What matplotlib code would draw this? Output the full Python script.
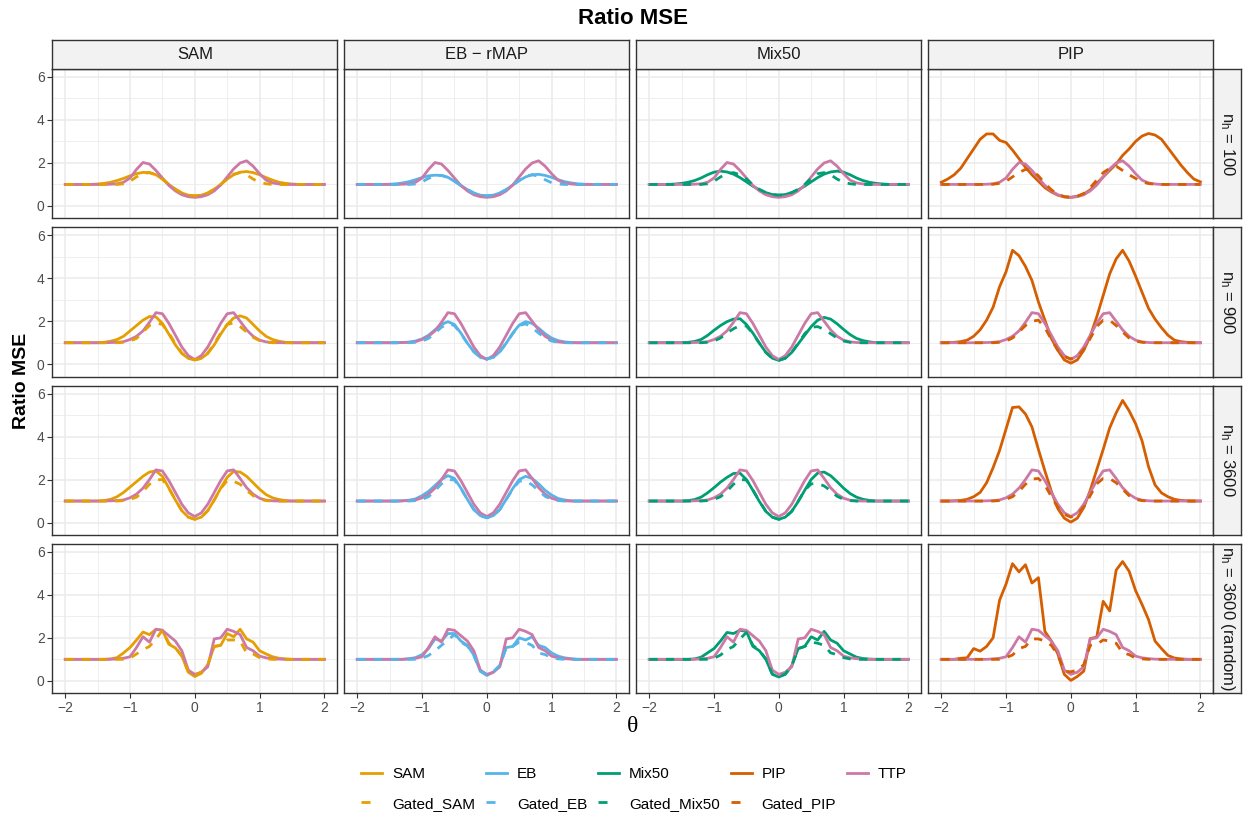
import matplotlib
matplotlib.use("Agg")
import matplotlib.pyplot as plt
from matplotlib.lines import Line2D
from matplotlib.ticker import FixedLocator

plt.rcParams["font.family"] = ["Liberation Sans", "DejaVu Sans"]
plt.rcParams["mathtext.fontset"] = "custom"
plt.rcParams["mathtext.rm"] = "Liberation Sans"
plt.rcParams["mathtext.it"] = "Liberation Sans:italic"
plt.rcParams["lines.scale_dashes"] = False

# ---------------- data ----------------
theta = [-2.0, -1.9, -1.8, -1.7, -1.6, -1.5, -1.4, -1.3, -1.2, -1.1, -1.0,
         -0.9, -0.8, -0.7, -0.6, -0.5, -0.4, -0.3, -0.2, -0.1, 0.0,
         0.1, 0.2, 0.3, 0.4, 0.5, 0.6, 0.7, 0.8, 0.9, 1.0,
         1.1, 1.2, 1.3, 1.4, 1.5, 1.6, 1.7, 1.8, 1.9, 2.0]

col_titles = ["SAM", "EB \u2212 rMAP", "Mix50", "PIP"]
methods = ["SAM", "EB", "Mix50", "PIP"]
row_labels = [r"$\mathrm{n_h}$ = 100", r"$\mathrm{n_h}$ = 900",
              r"$\mathrm{n_h}$ = 3600", r"$\mathrm{n_h}$ = 3600 (random)"]

# ---- n_h = 100 ----
TTP_100 = [1.00, 1.00, 1.00, 1.00, 1.00, 1.00, 1.00, 1.01, 1.03, 1.10, 1.30, 1.70, 2.02, 1.95, 1.65, 1.30, 0.95, 0.70, 0.52, 0.43,
           0.40,
           0.43, 0.52, 0.70, 0.97, 1.35, 1.72, 2.00, 2.10, 1.85, 1.50, 1.20, 1.07, 1.02, 1.00, 1.00, 1.00, 1.00, 1.00, 1.00, 1.00]
SAM_100 = [1.00, 1.00, 1.00, 1.00, 1.00, 1.02, 1.05, 1.10, 1.18, 1.28, 1.40, 1.50, 1.56, 1.55, 1.45, 1.25, 1.00, 0.78, 0.60, 0.50,
           0.47,
           0.50, 0.60, 0.78, 1.00, 1.25, 1.45, 1.57, 1.60, 1.55, 1.45, 1.32, 1.20, 1.10, 1.05, 1.02, 1.00, 1.00, 1.00, 1.00, 1.00]
GSAM_100 = [1.00, 1.00, 1.00, 1.00, 1.00, 1.00, 1.00, 1.00, 1.00, 1.03, 1.15, 1.35, 1.50, 1.55, 1.45, 1.25, 1.00, 0.78, 0.60, 0.50,
            0.47,
            0.50, 0.60, 0.78, 1.00, 1.25, 1.48, 1.55, 1.45, 1.25, 1.10, 1.03, 1.00, 1.00, 1.00, 1.00, 1.00, 1.00, 1.00, 1.00, 1.00]
EB_100 = [1.00, 1.00, 1.00, 1.00, 1.00, 1.01, 1.03, 1.07, 1.13, 1.22, 1.32, 1.40, 1.43, 1.42, 1.33, 1.15, 0.95, 0.76, 0.60, 0.50,
          0.47,
          0.50, 0.60, 0.76, 0.97, 1.18, 1.35, 1.45, 1.47, 1.42, 1.33, 1.22, 1.13, 1.07, 1.03, 1.01, 1.00, 1.00, 1.00, 1.00, 1.00]
GEB_100 = [1.00, 1.00, 1.00, 1.00, 1.00, 1.00, 1.00, 1.00, 1.00, 1.02, 1.12, 1.28, 1.40, 1.42, 1.33, 1.15, 0.95, 0.76, 0.60, 0.50,
           0.47,
           0.50, 0.60, 0.76, 0.97, 1.18, 1.38, 1.45, 1.38, 1.22, 1.08, 1.02, 1.00, 1.00, 1.00, 1.00, 1.00, 1.00, 1.00, 1.00, 1.00]
MIX_100 = [1.00, 1.00, 1.00, 1.00, 1.02, 1.05, 1.10, 1.18, 1.30, 1.45, 1.57, 1.62, 1.58, 1.48, 1.32, 1.12, 0.92, 0.75, 0.62, 0.53,
           0.50,
           0.53, 0.62, 0.75, 0.92, 1.12, 1.32, 1.48, 1.58, 1.62, 1.57, 1.45, 1.30, 1.18, 1.10, 1.05, 1.02, 1.00, 1.00, 1.00, 1.00]
GMIX_100 = [1.00, 1.00, 1.00, 1.00, 1.00, 1.00, 1.00, 1.00, 1.00, 1.03, 1.15, 1.35, 1.50, 1.55, 1.45, 1.25, 0.98, 0.77, 0.62, 0.53,
            0.50,
            0.53, 0.62, 0.77, 1.00, 1.28, 1.50, 1.55, 1.45, 1.25, 1.10, 1.03, 1.00, 1.00, 1.00, 1.00, 1.00, 1.00, 1.00, 1.00, 1.00]
PIP_100 = [1.10, 1.25, 1.45, 1.75, 2.20, 2.65, 3.10, 3.35, 3.35, 3.05, 2.95, 2.60, 2.20, 1.80, 1.45, 1.15, 0.85, 0.65, 0.50, 0.42,
           0.40,
           0.45, 0.55, 0.75, 1.05, 1.35, 1.65, 1.95, 2.35, 2.65, 3.00, 3.25, 3.37, 3.30, 3.10, 2.70, 2.30, 1.90, 1.55, 1.25, 1.12]
GPIP_100 = [1.00, 1.00, 1.00, 1.00, 1.00, 1.00, 1.00, 1.00, 1.01, 1.05, 1.15, 1.35, 1.55, 1.70, 1.65, 1.40, 1.05, 0.75, 0.55, 0.43,
            0.40,
            0.45, 0.58, 0.85, 1.20, 1.55, 1.75, 1.85, 1.65, 1.45, 1.28, 1.12, 1.04, 1.01, 1.00, 1.00, 1.00, 1.00, 1.00, 1.00, 1.00]

# ---- n_h = 900 ----
TTP_900 = [1.00, 1.00, 1.00, 1.00, 1.00, 1.00, 1.00, 1.01, 1.02, 1.05, 1.15, 1.30, 1.55, 1.95, 2.40, 2.35, 1.90, 1.35, 0.80, 0.40,
           0.22,
           0.40, 0.80, 1.35, 1.90, 2.35, 2.40, 2.00, 1.60, 1.30, 1.12, 1.04, 1.01, 1.00, 1.00, 1.00, 1.00, 1.00, 1.00, 1.00, 1.00]
SAM_900 = [1.00, 1.00, 1.00, 1.00, 1.00, 1.00, 1.02, 1.07, 1.15, 1.30, 1.55, 1.80, 2.05, 2.22, 2.20, 1.90, 1.40, 0.90, 0.50, 0.27,
           0.20,
           0.27, 0.50, 0.90, 1.40, 1.85, 2.15, 2.25, 2.15, 1.85, 1.55, 1.30, 1.15, 1.07, 1.02, 1.00, 1.00, 1.00, 1.00, 1.00, 1.00]
GSAM_900 = [1.00, 1.00, 1.00, 1.00, 1.00, 1.00, 1.00, 1.00, 1.00, 1.02, 1.08, 1.20, 1.50, 1.80, 1.92, 1.85, 1.45, 0.95, 0.52, 0.28,
            0.20,
            0.28, 0.52, 0.95, 1.45, 1.85, 1.92, 1.75, 1.50, 1.25, 1.10, 1.02, 1.00, 1.00, 1.00, 1.00, 1.00, 1.00, 1.00, 1.00, 1.00]
EB_900 = [1.00, 1.00, 1.00, 1.00, 1.00, 1.00, 1.00, 1.01, 1.03, 1.08, 1.18, 1.35, 1.60, 1.85, 1.98, 1.85, 1.45, 0.98, 0.58, 0.32,
          0.25,
          0.32, 0.58, 0.98, 1.45, 1.82, 1.98, 1.90, 1.68, 1.42, 1.22, 1.10, 1.04, 1.01, 1.00, 1.00, 1.00, 1.00, 1.00, 1.00, 1.00]
GEB_900 = [1.00, 1.00, 1.00, 1.00, 1.00, 1.00, 1.00, 1.00, 1.00, 1.02, 1.08, 1.20, 1.45, 1.72, 1.88, 1.80, 1.42, 0.98, 0.58, 0.32,
           0.25,
           0.32, 0.58, 0.98, 1.42, 1.80, 1.88, 1.70, 1.45, 1.22, 1.08, 1.02, 1.00, 1.00, 1.00, 1.00, 1.00, 1.00, 1.00, 1.00, 1.00]
MIX_900 = [1.00, 1.00, 1.00, 1.00, 1.00, 1.00, 1.02, 1.06, 1.15, 1.34, 1.58, 1.80, 1.98, 2.10, 2.12, 1.85, 1.45, 0.98, 0.55, 0.28,
           0.18,
           0.28, 0.55, 0.95, 1.35, 1.75, 2.05, 2.18, 2.10, 1.88, 1.62, 1.38, 1.20, 1.10, 1.04, 1.00, 1.00, 1.00, 1.00, 1.00, 1.00]
GMIX_900 = [1.00, 1.00, 1.00, 1.00, 1.00, 1.00, 1.00, 1.00, 1.00, 1.02, 1.08, 1.22, 1.45, 1.65, 1.80, 1.78, 1.42, 0.98, 0.55, 0.28,
            0.18,
            0.28, 0.55, 0.98, 1.42, 1.72, 1.75, 1.62, 1.42, 1.22, 1.08, 1.02, 1.00, 1.00, 1.00, 1.00, 1.00, 1.00, 1.00, 1.00, 1.00]
PIP_900 = [1.00, 1.00, 1.02, 1.05, 1.12, 1.30, 1.60, 2.05, 2.65, 3.60, 4.30, 5.30, 5.05, 4.55, 3.90, 2.90, 2.05, 1.20, 0.65, 0.20,
           0.05,
           0.20, 0.65, 1.30, 2.20, 3.20, 4.20, 4.90, 5.30, 4.80, 4.10, 3.35, 2.60, 2.10, 1.70, 1.35, 1.12, 1.05, 1.02, 1.00, 1.00]
GPIP_900 = [1.00, 1.00, 1.00, 1.00, 1.00, 1.00, 1.00, 1.00, 1.00, 1.02, 1.08, 1.22, 1.50, 1.80, 2.00, 2.05, 1.70, 1.15, 0.65, 0.35,
            0.25,
            0.35, 0.68, 1.20, 1.75, 2.05, 2.05, 1.80, 1.50, 1.22, 1.08, 1.02, 1.00, 1.00, 1.00, 1.00, 1.00, 1.00, 1.00, 1.00, 1.00]

# ---- n_h = 3600 ----
TTP_3600 = [1.00, 1.00, 1.00, 1.00, 1.00, 1.00, 1.00, 1.01, 1.02, 1.05, 1.15, 1.32, 1.60, 2.00, 2.45, 2.40, 1.95, 1.40, 0.85, 0.45,
            0.28,
            0.45, 0.85, 1.40, 1.95, 2.40, 2.45, 2.05, 1.62, 1.32, 1.13, 1.04, 1.01, 1.00, 1.00, 1.00, 1.00, 1.00, 1.00, 1.00, 1.00]
SAM_3600 = [1.00, 1.00, 1.00, 1.00, 1.00, 1.00, 1.02, 1.08, 1.20, 1.40, 1.65, 1.90, 2.15, 2.35, 2.40, 2.15, 1.60, 1.05, 0.55, 0.25,
            0.15,
            0.25, 0.55, 1.05, 1.60, 2.10, 2.38, 2.35, 2.15, 1.85, 1.55, 1.30, 1.15, 1.07, 1.02, 1.00, 1.00, 1.00, 1.00, 1.00, 1.00]
GSAM_3600 = [1.00, 1.00, 1.00, 1.00, 1.00, 1.00, 1.00, 1.00, 1.00, 1.02, 1.08, 1.18, 1.45, 1.78, 1.98, 2.00, 1.60, 1.05, 0.55, 0.25,
             0.15,
             0.25, 0.55, 1.05, 1.58, 1.95, 1.92, 1.78, 1.50, 1.25, 1.10, 1.02, 1.00, 1.00, 1.00, 1.00, 1.00, 1.00, 1.00, 1.00, 1.00]
EB_3600 = [1.00, 1.00, 1.00, 1.00, 1.00, 1.00, 1.00, 1.01, 1.04, 1.10, 1.25, 1.45, 1.72, 2.00, 2.18, 2.05, 1.60, 1.08, 0.60, 0.32,
           0.22,
           0.32, 0.60, 1.08, 1.58, 2.00, 2.15, 2.05, 1.80, 1.50, 1.28, 1.12, 1.05, 1.01, 1.00, 1.00, 1.00, 1.00, 1.00, 1.00, 1.00]
GEB_3600 = [1.00, 1.00, 1.00, 1.00, 1.00, 1.00, 1.00, 1.00, 1.00, 1.02, 1.08, 1.20, 1.48, 1.80, 2.00, 1.98, 1.58, 1.08, 0.60, 0.32,
            0.22,
            0.32, 0.60, 1.08, 1.55, 1.92, 1.95, 1.75, 1.48, 1.22, 1.08, 1.02, 1.00, 1.00, 1.00, 1.00, 1.00, 1.00, 1.00, 1.00, 1.00]
MIX_3600 = [1.00, 1.00, 1.00, 1.00, 1.00, 1.00, 1.02, 1.07, 1.18, 1.38, 1.62, 1.88, 2.10, 2.28, 2.30, 2.00, 1.50, 0.98, 0.52, 0.25,
            0.15,
            0.25, 0.52, 0.98, 1.50, 2.00, 2.30, 2.35, 2.18, 1.90, 1.60, 1.35, 1.18, 1.08, 1.03, 1.00, 1.00, 1.00, 1.00, 1.00, 1.00]
GMIX_3600 = [1.00, 1.00, 1.00, 1.00, 1.00, 1.00, 1.00, 1.00, 1.00, 1.02, 1.08, 1.20, 1.45, 1.78, 2.00, 1.98, 1.52, 1.00, 0.52, 0.25,
             0.15,
             0.25, 0.52, 1.00, 1.50, 1.80, 1.82, 1.70, 1.48, 1.22, 1.08, 1.02, 1.00, 1.00, 1.00, 1.00, 1.00, 1.00, 1.00, 1.00, 1.00]
PIP_3600 = [1.00, 1.00, 1.01, 1.03, 1.08, 1.20, 1.40, 1.85, 2.55, 3.35, 4.35, 5.35, 5.38, 5.05, 4.45, 3.40, 2.40, 1.45, 0.65, 0.20,
            0.02,
            0.20, 0.70, 1.50, 2.45, 3.40, 4.40, 5.10, 5.68, 5.20, 4.60, 3.80, 2.60, 1.75, 1.38, 1.20, 1.08, 1.03, 1.01, 1.00, 1.00]
GPIP_3600 = [1.00, 1.00, 1.00, 1.00, 1.00, 1.00, 1.00, 1.00, 1.00, 1.02, 1.08, 1.20, 1.45, 1.78, 2.02, 2.05, 1.75, 1.20, 0.70, 0.38,
             0.25,
             0.38, 0.72, 1.25, 1.80, 2.05, 2.05, 1.85, 1.55, 1.25, 1.08, 1.02, 1.00, 1.00, 1.00, 1.00, 1.00, 1.00, 1.00, 1.00, 1.00]

# ---- n_h = 3600 (random) ----
TTP_R = [1.00, 1.00, 1.00, 1.00, 1.00, 1.00, 1.00, 1.00, 1.02, 1.05, 1.12, 1.55, 2.05, 1.80, 2.40, 2.35, 2.10, 1.85, 1.40, 0.50,
         0.30,
         0.40, 0.65, 1.95, 2.00, 2.40, 2.30, 2.15, 1.55, 1.40, 1.15, 1.07, 1.03, 1.01, 1.00, 1.00, 1.00, 1.00, 1.00, 1.00, 1.00]
SAM_R = [1.00, 1.00, 1.00, 1.00, 1.00, 1.00, 1.00, 1.02, 1.08, 1.30, 1.55, 1.90, 2.27, 2.15, 2.40, 2.35, 1.70, 1.53, 1.15, 0.40,
         0.20,
         0.35, 0.75, 1.60, 1.65, 2.20, 2.05, 2.40, 1.95, 1.80, 1.40, 1.25, 1.12, 1.05, 1.02, 1.00, 1.00, 1.00, 1.00, 1.00, 1.00]
GSAM_R = [1.00, 1.00, 1.00, 1.00, 1.00, 1.00, 1.00, 1.00, 1.00, 1.00, 1.05, 1.25, 1.45, 1.60, 1.95, 2.35, 1.75, 1.55, 1.15, 0.42,
          0.25,
          0.40, 0.75, 1.60, 1.65, 1.90, 1.90, 1.85, 1.30, 1.25, 1.08, 1.02, 1.00, 1.00, 1.00, 1.00, 1.00, 1.00, 1.00, 1.00, 1.00]
EB_R = [1.00, 1.00, 1.00, 1.00, 1.00, 1.00, 1.00, 1.00, 1.03, 1.08, 1.22, 1.50, 1.95, 1.85, 2.20, 2.20, 1.85, 1.65, 1.20, 0.45,
        0.25,
        0.40, 0.70, 1.55, 1.60, 2.00, 1.90, 2.05, 1.65, 1.55, 1.30, 1.15, 1.07, 1.03, 1.00, 1.00, 1.00, 1.00, 1.00, 1.00, 1.00]
GEB_R = [1.00, 1.00, 1.00, 1.00, 1.00, 1.00, 1.00, 1.00, 1.00, 1.00, 1.05, 1.18, 1.40, 1.65, 1.90, 2.15, 1.80, 1.62, 1.18, 0.45,
         0.28,
         0.42, 0.72, 1.55, 1.60, 1.80, 1.78, 1.65, 1.30, 1.22, 1.08, 1.02, 1.00, 1.00, 1.00, 1.00, 1.00, 1.00, 1.00, 1.00, 1.00]
MIX_R = [1.00, 1.00, 1.00, 1.00, 1.00, 1.00, 1.00, 1.02, 1.10, 1.30, 1.50, 1.85, 2.25, 2.20, 2.35, 2.30, 1.60, 1.40, 1.00, 0.30,
         0.18,
         0.30, 0.70, 1.50, 1.60, 2.05, 1.90, 2.30, 1.90, 1.75, 1.40, 1.25, 1.10, 1.04, 1.01, 1.00, 1.00, 1.00, 1.00, 1.00, 1.00]
GMIX_R = [1.00, 1.00, 1.00, 1.00, 1.00, 1.00, 1.00, 1.00, 1.00, 1.00, 1.05, 1.20, 1.45, 1.60, 1.95, 2.25, 1.65, 1.42, 1.02, 0.32,
          0.20,
          0.32, 0.70, 1.50, 1.60, 1.80, 1.75, 1.65, 1.30, 1.22, 1.08, 1.02, 1.00, 1.00, 1.00, 1.00, 1.00, 1.00, 1.00, 1.00, 1.00]
PIP_R = [1.00, 1.00, 1.00, 1.05, 1.07, 1.50, 1.38, 1.60, 2.00, 3.75, 4.50, 5.45, 5.07, 5.40, 4.55, 4.80, 2.30, 1.85, 1.25, 0.30,
         0.02,
         0.20, 0.45, 1.97, 2.03, 3.70, 3.25, 5.15, 5.55, 5.10, 4.20, 3.55, 2.85, 1.85, 1.50, 1.18, 1.06, 1.02, 1.00, 1.00, 1.00]
GPIP_R = [1.00, 1.00, 1.00, 1.00, 1.00, 1.00, 1.00, 1.00, 1.00, 1.00, 1.08, 1.20, 1.50, 1.60, 1.95, 1.95, 1.85, 1.65, 1.20, 0.45,
          0.42,
          0.50, 0.75, 1.65, 1.70, 1.90, 1.85, 1.75, 1.30, 1.22, 1.05, 1.02, 1.00, 1.00, 1.00, 1.00, 1.00, 1.00, 1.00, 1.00, 1.00]

TTP_rows = [TTP_100, TTP_900, TTP_3600, TTP_R]
method_rows = [
    [SAM_100, EB_100, MIX_100, PIP_100],
    [SAM_900, EB_900, MIX_900, PIP_900],
    [SAM_3600, EB_3600, MIX_3600, PIP_3600],
    [SAM_R, EB_R, MIX_R, PIP_R],
]
gated_rows = [
    [GSAM_100, GEB_100, GMIX_100, GPIP_100],
    [GSAM_900, GEB_900, GMIX_900, GPIP_900],
    [GSAM_3600, GEB_3600, GMIX_3600, GPIP_3600],
    [GSAM_R, GEB_R, GMIX_R, GPIP_R],
]

colors = {"SAM": "#E69F00", "EB": "#56B4E9", "Mix50": "#009E73",
          "PIP": "#D55E00", "TTP": "#CC79A7"}

# ---------------- layout ----------------
W, H = 1243, 817
fig = plt.figure(figsize=(W / 100, H / 100), dpi=100)


def rect(x0, y0, w, h):
    return [x0 / W, 1 - (y0 + h) / H, w / W, h / H]


col_left = [52.3, 344.3, 636.3, 928.3]
col_w = 285.0
row_top = [69.0, 227.3, 385.6, 543.9]
row_h = 149.4
strip_h = 29.0
rstrip_w = 28.0
border = "#333333"
LW = 2.0
DASH = (0, (6.0, 6.0))

for r in range(4):
    for c in range(4):
        ax = fig.add_axes(rect(col_left[c], row_top[r], col_w, row_h))
        ax.set_xlim(-2.2, 2.2)
        ax.set_ylim(-0.58, 6.37)
        ax.xaxis.set_major_locator(FixedLocator([-2, -1, 0, 1, 2]))
        ax.xaxis.set_minor_locator(FixedLocator([-1.5, -0.5, 0.5, 1.5]))
        ax.yaxis.set_major_locator(FixedLocator([0, 2, 4, 6]))
        ax.yaxis.set_minor_locator(FixedLocator([1, 3, 5]))
        ax.grid(which="major", color="#EBEBEB", lw=1.1)
        ax.grid(which="minor", color="#EBEBEB", lw=0.55)
        ax.set_axisbelow(True)
        for sp in ax.spines.values():
            sp.set_color(border)
            sp.set_linewidth(1.0)
        ax.tick_params(which="minor", length=0)
        ax.tick_params(which="major", length=3.5, width=0.8, color=border,
                       labelcolor="#4D4D4D", labelsize=10, pad=2)
        if c != 0:
            ax.tick_params(axis="y", which="major", length=0, labelleft=False)
        if r != 3:
            ax.tick_params(axis="x", which="major", length=0, labelbottom=False)

        m = methods[c]
        ax.plot(theta, method_rows[r][c], color=colors[m], lw=LW,
                solid_joinstyle="round", zorder=3)
        ax.plot(theta, TTP_rows[r], color=colors["TTP"], lw=LW,
                solid_joinstyle="round", zorder=4)
        ax.plot(theta, gated_rows[r][c], color=colors[m], lw=LW, ls=DASH,
                dash_joinstyle="round", zorder=5)

# top strips
for c in range(4):
    sax = fig.add_axes(rect(col_left[c], row_top[0] - strip_h, col_w, strip_h))
    sax.set_facecolor("#F2F2F2")
    sax.set_xticks([])
    sax.set_yticks([])
    for sp in sax.spines.values():
        sp.set_color(border)
        sp.set_linewidth(1.0)
    sax.text(0.5, 0.5, col_titles[c], ha="center", va="center",
             fontsize=12, color="#1A1A1A", transform=sax.transAxes)

# right strips
for r in range(4):
    sax = fig.add_axes(rect(col_left[3] + col_w, row_top[r], rstrip_w, row_h))
    sax.set_facecolor("#F2F2F2")
    sax.set_xticks([])
    sax.set_yticks([])
    for sp in sax.spines.values():
        sp.set_color(border)
        sp.set_linewidth(1.0)
    sax.text(0.5, 0.5, row_labels[r], ha="center", va="center", rotation=-90,
             fontsize=12, color="#1A1A1A", transform=sax.transAxes)

# titles
fig.text(632.5 / W, 1 - 18 / H, "Ratio MSE", ha="center", va="center",
         fontsize=16, fontweight="bold")
fig.text(22 / W, 1 - 381 / H, "Ratio MSE", ha="center", va="center",
         rotation=90, fontsize=14, fontweight="bold")
fig.text(632.5 / W, 1 - 727 / H, "\u03b8", ha="center", va="center",
         fontsize=17, family=["Liberation Serif", "DejaVu Serif"])

# legend
handles, labels = [], []
for m in ["SAM", "EB", "Mix50", "PIP"]:
    handles.append(Line2D([], [], color=colors[m], lw=LW))
    labels.append(m)
    handles.append(Line2D([], [], color=colors[m], lw=LW, ls=(0, (6.5, 30))))
    labels.append("Gated_" + m)
handles.append(Line2D([], [], color=colors["TTP"], lw=LW))
labels.append("TTP")

fig.legend(handles, labels, ncol=5, loc="center",
           bbox_to_anchor=(634 / W, 1 - 789 / H), frameon=False,
           fontsize=11, handlelength=1.37, handletextpad=0.65,
           columnspacing=0.72, labelspacing=1.0)

fig.savefig("out.png", dpi=100)
